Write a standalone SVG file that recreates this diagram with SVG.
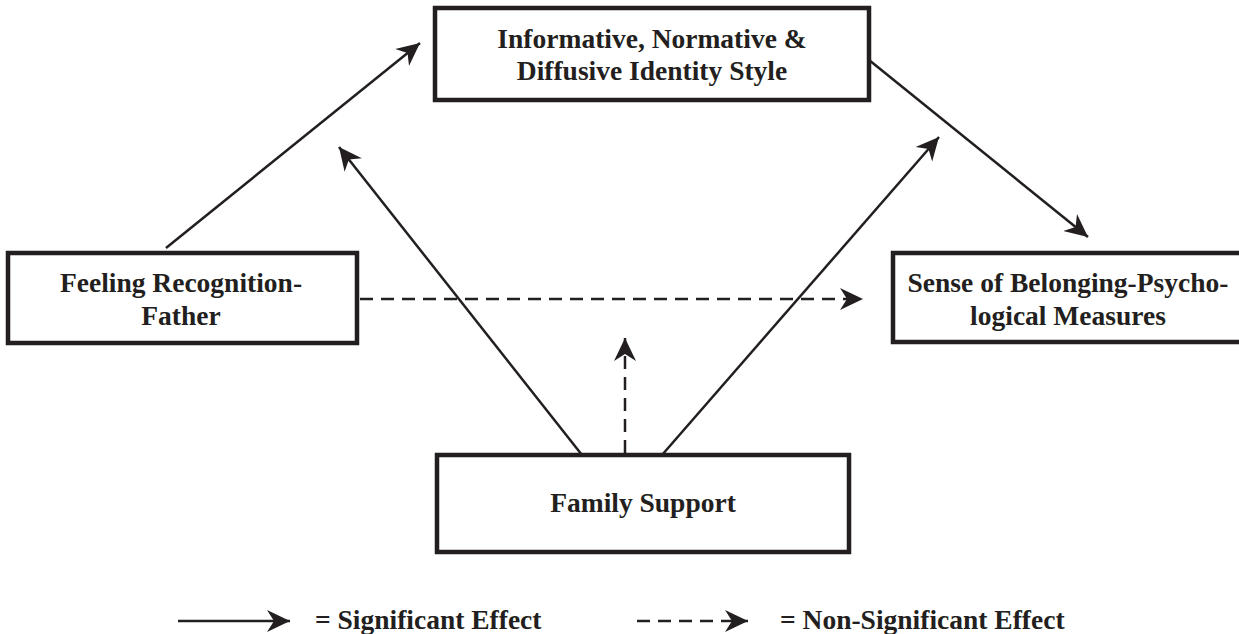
<svg xmlns="http://www.w3.org/2000/svg" width="1239" height="634" viewBox="0 0 1239 634">
<style>
.box{fill:#fff;stroke:#231f20;stroke-width:4.5}
.lbl{font-family:"Liberation Serif","Times New Roman",serif;font-weight:bold;font-size:27.5px;fill:#231f20;text-anchor:middle}
.leg{font-family:"Liberation Serif","Times New Roman",serif;font-weight:bold;font-size:27.5px;fill:#231f20}
.sol{stroke:#231f20;stroke-width:2.5;fill:none}
.dash{stroke:#231f20;stroke-width:2.5;fill:none;stroke-dasharray:13 8}
</style>
<defs>
<marker id="ah" markerUnits="userSpaceOnUse" markerWidth="24" markerHeight="24" refX="23" refY="12" orient="auto" viewBox="0 0 24 24">
<path d="M0,1 L23,12 L0,23 L7,12 Z" fill="#231f20"/>
</marker>
</defs>
<g id="connectors">
<line class="sol" x1="166" y1="248" x2="420" y2="43" marker-end="url(#ah)"/>
<line class="sol" x1="869" y1="60" x2="1088" y2="237" marker-end="url(#ah)"/>
<line class="sol" x1="582" y1="455" x2="339" y2="147" marker-end="url(#ah)"/>
<line class="sol" x1="662" y1="455" x2="939" y2="137" marker-end="url(#ah)"/>
<line class="dash" x1="360" y1="299" x2="863" y2="299" marker-end="url(#ah)"/>
<line class="dash" x1="625" y1="453" x2="625" y2="338" marker-end="url(#ah)"/>
</g>
<g id="node-identity">
<rect class="box" x="435" y="8" width="434" height="92"/>
<text class="lbl" x="652" y="48">Informative, Normative &amp;</text>
<text class="lbl" x="652" y="80">Diffusive Identity Style</text>
</g>
<g id="node-feeling">
<rect class="box" x="8" y="253" width="349" height="90"/>
<text class="lbl" x="181" y="292">Feeling Recognition-</text>
<text class="lbl" x="181" y="325">Father</text>
</g>
<g id="node-belonging">
<rect class="box" x="893" y="253" width="360" height="89"/>
<text class="lbl" x="1068" y="292">Sense of Belonging-Psycho-</text>
<text class="lbl" x="1068" y="325">logical Measures</text>
</g>
<g id="node-family">
<rect class="box" x="437" y="455" width="412" height="97"/>
<text class="lbl" x="643" y="512">Family Support</text>
</g>
<g id="legend">
<line class="sol" x1="178" y1="621" x2="290" y2="621" marker-end="url(#ah)"/>
<text class="leg" x="315" y="629">= Significant Effect</text>
<line class="dash" x1="637" y1="621" x2="748" y2="621" marker-end="url(#ah)" stroke-dasharray="13 10"/>
<text class="leg" x="780" y="629">= Non-Significant Effect</text>
</g>
</svg>
